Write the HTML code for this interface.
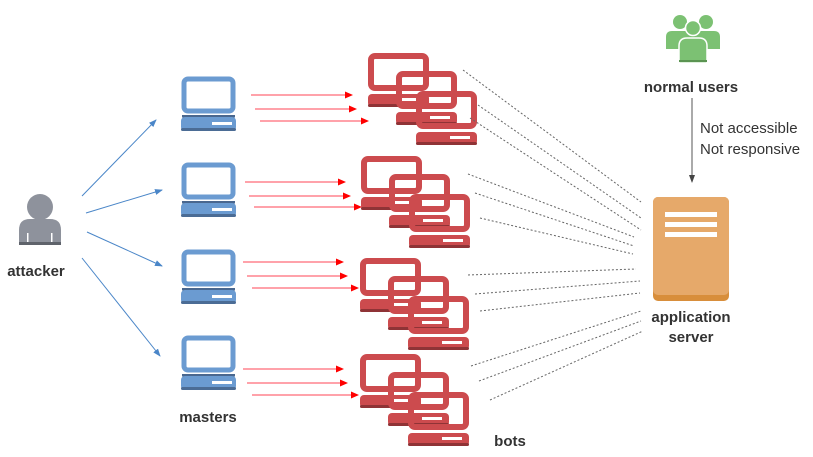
<!DOCTYPE html>
<html><head><style>
body{margin:0;background:#fff;}
svg{display:block;font-family:"Liberation Sans",sans-serif;}
</style></head><body>
<svg width="813" height="457" viewBox="0 0 813 457" xmlns="http://www.w3.org/2000/svg">
<defs>
<marker id="rh" markerWidth="8" markerHeight="8" refX="7" refY="4" orient="auto" markerUnits="userSpaceOnUse"><path d="M0,0.5 L8,4 L0,7.5z" fill="#f00"/></marker>
<marker id="bh" markerWidth="8" markerHeight="8" refX="7" refY="4" orient="auto" markerUnits="userSpaceOnUse"><path d="M0,1 L8,4 L0,7z" fill="#4a86c8"/></marker>
<marker id="kh" markerWidth="8" markerHeight="8" refX="7" refY="4" orient="auto" markerUnits="userSpaceOnUse"><path d="M0,1 L8,4 L0,7z" fill="#444"/></marker>
<g id="mc">
<rect x="3" y="3" width="49" height="32" rx="4" fill="#fff" stroke="#6b9bd1" stroke-width="5"/>
<rect x="1" y="39" width="53" height="2.5" fill="#49678f"/>
<rect x="0" y="41" width="55" height="14" rx="4" fill="#6b9bd1"/>
<rect x="0" y="52" width="55" height="3" rx="1.5" fill="#4b6c95"/>
<rect x="31" y="46" width="20" height="3" fill="#fff"/>
</g>
<g id="rc">
<rect x="3" y="3" width="55" height="32" rx="4" fill="none" stroke="#cc4b4e" stroke-width="6"/>
<rect x="0" y="41" width="61" height="13" rx="4" fill="#cc4b4e"/>
<rect x="0" y="51" width="61" height="3" rx="1.5" fill="#8f3336"/>
<rect x="34" y="45" width="20" height="3" fill="#fff"/>
</g>
<g id="bots">
<use href="#rc" x="0" y="0"/>
<use href="#rc" x="28" y="18"/>
<use href="#rc" x="48" y="38"/>
</g>
</defs>

<!-- attacker -->
<g fill="#8e929c">
<circle cx="40" cy="207" r="13"/>
<path d="M19,245 L19,230 Q19,219 30,219 L50,219 Q61,219 61,230 L61,245z"/>
</g>
<rect x="19" y="242" width="42" height="3" fill="#5f636b"/>
<rect x="27" y="233" width="1.5" height="9" fill="#fff"/><rect x="51" y="233" width="1.5" height="9" fill="#fff"/>
<text x="36" y="276" font-size="15" font-weight="bold" fill="#333" text-anchor="middle">attacker</text>

<g stroke="#4a86c8" stroke-width="1" marker-end="url(#bh)">
<line x1="82" y1="196" x2="156" y2="120"/>
<line x1="86" y1="213" x2="162" y2="190"/>
<line x1="87" y1="232" x2="162" y2="266"/>
<line x1="82" y1="258" x2="160" y2="356"/>
</g>

<!-- masters -->
<use href="#mc" x="181" y="76"/>
<use href="#mc" x="181" y="162"/>
<use href="#mc" x="181" y="249"/>
<use href="#mc" x="181" y="335"/>
<text x="208" y="422" font-size="15" font-weight="bold" fill="#333" text-anchor="middle">masters</text>

<!-- red arrows -->
<g stroke="#f45" stroke-width="1" marker-end="url(#rh)">
<line x1="251" y1="95" x2="352" y2="95"/>
<line x1="255" y1="109" x2="356" y2="109"/>
<line x1="260" y1="121" x2="368" y2="121"/>
<line x1="245" y1="182" x2="345" y2="182"/>
<line x1="249" y1="196" x2="350" y2="196"/>
<line x1="254" y1="207" x2="361" y2="207"/>
<line x1="243" y1="262" x2="343" y2="262"/>
<line x1="247" y1="276" x2="347" y2="276"/>
<line x1="252" y1="288" x2="358" y2="288"/>
<line x1="243" y1="369" x2="343" y2="369"/>
<line x1="247" y1="383" x2="347" y2="383"/>
<line x1="252" y1="395" x2="358" y2="395"/>
</g>

<!-- bots -->
<use href="#bots" x="368" y="53"/>
<use href="#bots" x="361" y="156"/>
<use href="#bots" x="360" y="258"/>
<use href="#bots" x="360" y="354"/>
<text x="510" y="446" font-size="15" font-weight="bold" fill="#333" text-anchor="middle">bots</text>

<!-- dotted -->
<g stroke="#666" stroke-width="1" stroke-dasharray="2,2">
<line x1="463" y1="70" x2="641" y2="202"/>
<line x1="478" y1="105" x2="641" y2="218"/>
<line x1="470" y1="118" x2="641" y2="230"/>
<line x1="468" y1="174" x2="634" y2="237"/>
<line x1="475" y1="193" x2="634" y2="246"/>
<line x1="480" y1="218" x2="633" y2="254"/>
<line x1="468" y1="275" x2="636" y2="269"/>
<line x1="475" y1="294" x2="640" y2="281"/>
<line x1="480" y1="311" x2="640" y2="293"/>
<line x1="471" y1="366" x2="641" y2="311"/>
<line x1="479" y1="381" x2="641" y2="321"/>
<line x1="490" y1="400" x2="643" y2="331"/>
</g>

<!-- users -->
<g fill="#7cc173">
<circle cx="680" cy="22" r="7"/><circle cx="706" cy="22" r="7"/>
<path d="M666,49 L666,37 Q666,31 672,31 L714,31 Q720,31 720,37 L720,49z"/>
</g>
<g fill="#7cc173" stroke="#fff" stroke-width="1.5">
<circle cx="693" cy="28" r="7.5"/>
<path d="M679,63 L679,46 Q679,38 687,38 L699,38 Q707,38 707,46 L707,63z"/>
</g>
<rect x="679" y="60" width="28" height="2" fill="#5b9452"/>
<text x="691" y="92" font-size="15" font-weight="bold" fill="#333" text-anchor="middle">normal users</text>
<line x1="692" y1="98" x2="692" y2="182" stroke="#555" stroke-width="1" marker-end="url(#kh)"/>
<text x="700" y="133" font-size="15" fill="#333">Not accessible</text>
<text x="700" y="154" font-size="15" fill="#333">Not responsive</text>

<!-- server -->
<rect x="653" y="197" width="76" height="104" rx="5" fill="#d88e3b"/>
<rect x="653" y="197" width="76" height="98" rx="5" fill="#e6a96a"/>
<rect x="665" y="212" width="52" height="5" fill="#fff"/>
<rect x="665" y="222" width="52" height="5" fill="#fff"/>
<rect x="665" y="232" width="52" height="5" fill="#fff"/>
<text x="691" y="322" font-size="15" font-weight="bold" fill="#333" text-anchor="middle">application</text>
<text x="691" y="342" font-size="15" font-weight="bold" fill="#333" text-anchor="middle">server</text>
</svg>
</body></html>
